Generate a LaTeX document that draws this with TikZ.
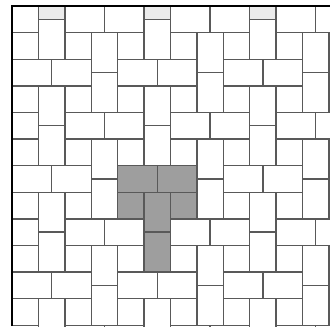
\documentclass[tikz,border=0pt]{standalone}
\tikzset{
  tile/.style={draw=black!65, line width=1.4pt},
  tshade/.style={fill=black!38},
  faded/.style={fill=black!8},
  frameline/.style={draw=black, line width=2pt},
}
\begin{document}
\begin{tikzpicture}[x=13.2pt,y=-13.3pt]
\useasboundingbox (-0.909,-0.451) rectangle (24.09,24.06);
\begin{scope}
  \clip (0,0) rectangle (24.09,24.06);
  % faded tops of clipped vertical bricks
  \foreach \fx in {2,10,18} { \fill[faded] (\fx,0) rectangle (\fx+2,1); }
  % highlighted T-shaped unit
  \begin{scope}[shift={(8,12)}]
    \fill[tshade] (0,0) -- (6,0) -- (6,4) -- (4,4) -- (4,8) -- (2,8) -- (2,4) -- (0,4) -- cycle;
  \end{scope}
  % periodic tiling of the T unit
  \foreach \i in {-4,...,5} {
    \foreach \j in {-6,...,5} {
      \pgfmathsetmacro\ox{8+4*\i}
      \pgfmathsetmacro\oy{12+4*\i+8*\j}
      \begin{scope}[shift={(\ox,\oy)}]
        \draw[tile] (0,0) rectangle (3,2);
        \draw[tile] (3,0) rectangle (6,2);
        \draw[tile] (0,2) rectangle (2,4);
        \draw[tile] (4,2) rectangle (6,4);
        \draw[tile] (2,2) rectangle (4,5);
        \draw[tile] (2,5) rectangle (4,8);
      \end{scope}
    }
  }
\end{scope}
\draw[frameline] (0,24.06) -- (0,0) -- (24.09,0);
\end{tikzpicture}
\end{document}
